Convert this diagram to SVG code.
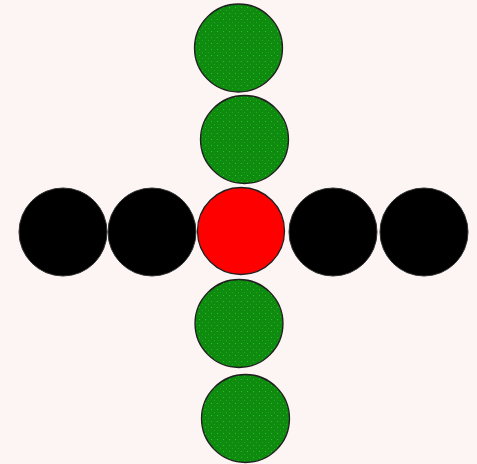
<svg xmlns="http://www.w3.org/2000/svg" width="477" height="464" viewBox="0 0 477 464">
<defs>
<pattern id="stip" width="6" height="6" patternUnits="userSpaceOnUse">
<rect width="6" height="6" fill="#0f8c0f"/>
<rect x="1" y="1" width="1" height="1" fill="#22c422"/>
<rect x="4" y="4" width="1" height="1" fill="#1aaa1a"/>
</pattern>
</defs>
<style>
.g{fill:url(#stip);stroke:#202020;stroke-width:1.3}
.b{fill:#000;stroke:#303030;stroke-width:1}
.r{fill:#ff0000;stroke:#202020;stroke-width:1.3}
</style>
<rect width="477" height="464" fill="#fdf4f4"/>
<g id="green1"><circle class="g" cx="238.5" cy="48" r="44"/></g>
<g id="green2"><circle class="g" cx="244.5" cy="139.5" r="44"/></g>
<g id="black1"><circle class="b" cx="63" cy="232" r="44"/></g>
<g id="black2"><circle class="b" cx="152" cy="232" r="44"/></g>
<g id="red"><circle class="r" cx="241" cy="231" r="43.5"/></g>
<g id="black3"><circle class="b" cx="333" cy="232" r="44"/></g>
<g id="black4"><circle class="b" cx="424" cy="232" r="44"/></g>
<g id="green3"><circle class="g" cx="239" cy="323.5" r="44"/></g>
<g id="green4"><circle class="g" cx="245.5" cy="418.5" r="44"/></g>
<g id="connectors"></g>
</svg>
